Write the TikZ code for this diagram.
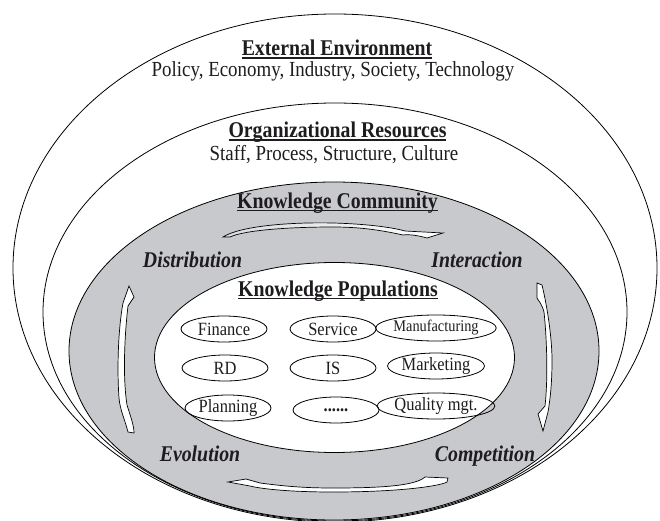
\documentclass[tikz,border=0pt]{standalone}
\usepackage{fontspec}
\setmainfont[FakeStretch=0.88]{Liberation Serif}
\usetikzlibrary{shapes.geometric}
\definecolor{ring}{RGB}{200,201,204}
\definecolor{ink}{RGB}{30,28,30}
\newcommand\ulin[1]{\setbox0\hbox{#1}\rlap{\rule[-2.8pt]{\wd0}{1.3pt}}\box0}
\begin{document}
\begin{tikzpicture}[x=1pt,y=-1pt, line width=0.8pt, text=ink,
  title/.style={font=\fontsize{22.5}{27}\selectfont\bfseries, anchor=base, inner sep=0},
  sub/.style={font=\fontsize{21.5}{26}\selectfont, anchor=base, inner sep=0},
  proc/.style={font=\fontsize{22.5}{27}\selectfont\bfseries\itshape, anchor=base, inner sep=0},
  pop/.style={draw, ellipse, minimum width=86pt, minimum height=26pt, inner sep=0, font=\fontsize{18.7}{22}\selectfont},
  blade/.style={draw, line width=0.7pt, fill=white}
]
\useasboundingbox (0,0) rectangle (660,521);
\begin{scope}
\clip (0,0) rectangle (660,521);
\draw[fill=white] (335,268) ellipse [x radius=322pt, y radius=254pt];
\draw[fill=white] (335,312) ellipse [x radius=292pt, y radius=209pt];
\draw[fill=ring] (334,351) ellipse [x radius=265pt, y radius=169pt];
\draw[fill=white] (334.5,357.5) ellipse [x radius=180pt, y radius=95pt];
\end{scope}

% titles
\node[title] (ext) at (337,56) {\ulin{External Environment}};
\node[sub] (extsub) at (333,77) {Policy, Economy, Industry, Society, Technology};
\node[title] (org) at (337.5,138) {\ulin{Organizational Resources}};
\node[sub] (orgsub) at (334,161) {Staff, Process, Structure, Culture};
\node[title] (kc) at (337.5,208) {\ulin{Knowledge Community}};
\node[title] (kp) at (338,296) {\ulin{Knowledge Populations}};

% processes
\node[proc] (dist) at (192.5,267) {Distribution};
\node[proc] (inter) at (477,267) {Interaction};
\node[proc] (evo) at (200,461) {Evolution};
\node[proc] (comp) at (485,461) {Competition};

% populations
\node[pop] (fin) at (224,329) {Finance};
\node[pop] (ser) at (333,329) {Service};
\node[pop, font=\fontsize{16.3}{20}\selectfont] (man) at (436,328) {Manufacturing};
\node[pop] (rd) at (225,368) {RD};
\node[pop] (is) at (333,368) {IS};
\node[pop] (mkt) at (436,366) {Marketing};
\node[pop] (pla) at (228,408) {Planning};
\node[pop] (dots) at (336,410) {\textbf{......}};
\node[pop] (qua) at (436,406) {Quality mgt.};

% top arrow (to the right)
\draw[blade, left color={rgb,255:red,218;green,218;blue,220}, right color=white]
  (223,237) .. controls (240,226) and (290,222) .. (333,223)
  .. controls (370,224) and (395,228) .. (405,231) -- (443,233) -- (427,238)
  .. controls (420,236) and (410,234) .. (403,235)
  .. controls (380,230) and (360,227) .. (333,227)
  .. controls (290,227) and (245,230) .. (230,237) -- cycle;

% right arrow (downwards)
\draw[blade]
  (537,283) -- (542,285)
  .. controls (548,310) and (552,340) .. (552,360)
  .. controls (552,385) and (550,400) .. (548,412)
  -- (543,431) -- (538,414) -- (545,406)
  .. controls (548,380) and (547,340) .. (544,312)
  .. controls (542,304) and (538,300) .. (537,298) -- cycle;

% bottom arrow (to the left)
\draw[blade]
  (228,482) -- (246,479) -- (260,483)
  .. controls (290,487) and (310,488) .. (333,488)
  .. controls (380,488) and (415,486) .. (425,477)
  -- (448,478) -- (447,482)
  .. controls (440,486) and (400,492) .. (333,492)
  .. controls (290,492) and (262,489) .. (250,486) -- cycle;

% left arrow (upwards)
\draw[blade]
  (129,286) -- (134,297) -- (128,306)
  .. controls (124,340) and (123,380) .. (127,405)
  .. controls (130,415) and (134,425) .. (134,433)
  -- (128,432)
  .. controls (125,420) and (120,410) .. (119,398)
  .. controls (117,370) and (118,330) .. (123,303)
  -- cycle;
\end{tikzpicture}
\end{document}
